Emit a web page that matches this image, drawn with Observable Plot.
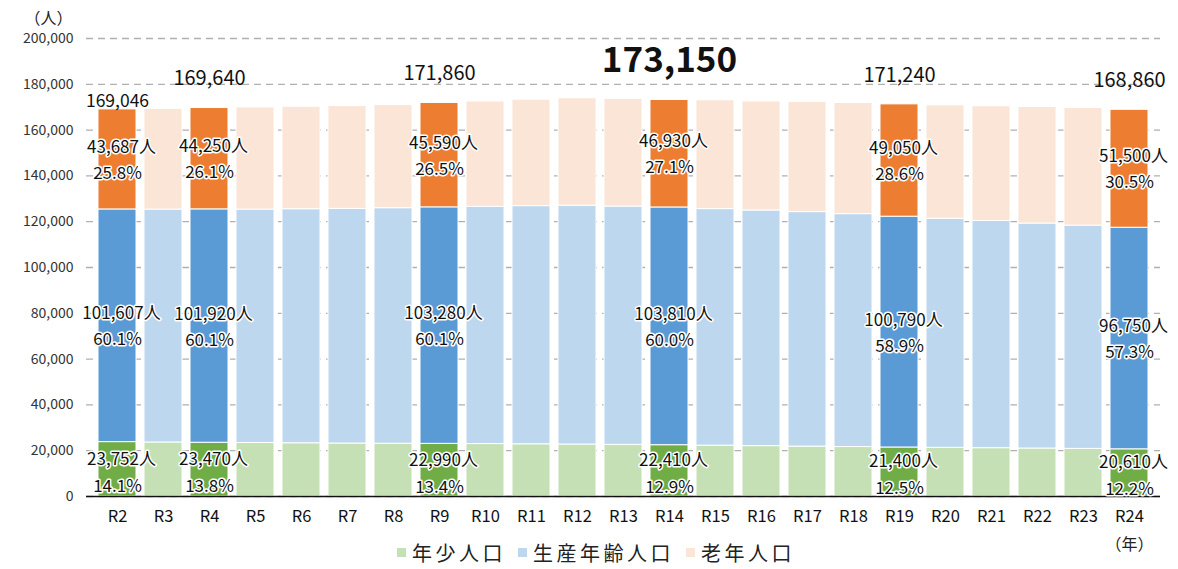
<!DOCTYPE html>
<html>
<head>
<meta charset="utf-8">
<script src="https://cdn.jsdelivr.net/npm/d3@7"></script>
<script src="https://cdn.jsdelivr.net/npm/@observablehq/plot@0.6"></script>
<style>
  body { margin: 0; background: #fff; font-family: "Noto Sans CJK JP", "Noto Sans", sans-serif; }
  #chart svg { display: block; overflow: visible; }
  #legend { display: flex; justify-content: center; align-items: center; height: 34px; font-size: 20px; letter-spacing: 3.5px; color: #222; padding-left: 14px; }
  #legend span.item { display: inline-flex; align-items: center; margin: 0 6px; }
  #legend span.sw { display: inline-block; width: 9px; height: 9px; margin-right: 6px; }
</style>
</head>
<body>
<div id="chart"></div>
<div id="legend"></div>
<script>
const years = ["R2","R3","R4","R5","R6","R7","R8","R9","R10","R11","R12","R13","R14","R15","R16","R17","R18","R19","R20","R21","R22","R23","R24"];
const young   = [23752,23600,23470,23350,23250,23150,23050,22990,22900,22800,22700,22550,22410,22200,22000,21800,21600,21400,21250,21100,20950,20800,20610];
const working = [101607,101700,101920,101950,102200,102450,102850,103280,103600,104000,104300,104050,103810,103300,102900,102400,101700,100790,100050,99200,98250,97500,96750];
const old     = [43687,44000,44250,44600,44750,44900,45100,45590,46000,46500,46900,47000,46930,47500,47600,48100,48550,49050,49500,50100,50900,51400,51500];
const highlighted = ["R2","R4","R9","R14","R19","R24"];
const seriesNames = ["年少人口","生産年齢人口","老年人口"];
const darkColors  = ["#70ad47","#5b9bd5","#ed7d31"];
const lightColors = ["#c5e0b4","#bdd7ee","#fbe5d6"];
const yTicks = [0,20000,40000,60000,80000,100000,120000,140000,160000,180000,200000];

const seriesValues = [young, working, old];
const rows = [];
const labelRows = [];
const totalRows = [];
years.forEach((yr, i) => {
  const total = young[i] + working[i] + old[i];
  const hi = highlighted.includes(yr);
  let base = 0;
  seriesValues.forEach((arr, k) => {
    const v = arr[i];
    rows.push({year: yr, series: seriesNames[k], k, value: v, color: hi ? darkColors[k] : lightColors[k]});
    if (hi) labelRows.push({year: yr, k, value: v, mid: base + v / 2, pct: (v / total * 100).toFixed(1) + "%"});
    base += v;
  });
  if (hi) totalRows.push({year: yr, total});
});
const maxTotal = d3.max(totalRows, d => d.total);
const firstRow = totalRows.slice(0, 1);
const maxRows = totalRows.filter(d => d.total === maxTotal);
const otherRows = totalRows.filter(d => d !== firstRow[0] && d.total !== maxTotal);

const fmt = d3.format(",");
const FONT = "'Noto Sans CJK JP', 'Noto Sans', sans-serif";
const labelStyle = {fill: "#111", stroke: "white", strokeWidth: 3, fontSize: 17, fontFamily: FONT};
const youngRows = labelRows.filter(d => d.k === 0);
const upperRows = labelRows.filter(d => d.k !== 0);

const chart = Plot.plot({
  width: 1178,
  height: 535,
  marginTop: 38,
  marginBottom: 39,
  marginLeft: 86,
  marginRight: 18,
  style: {fontFamily: FONT, background: "white"},
  x: {domain: years, padding: 0.17, label: null, tickSize: 0, tickPadding: 14},
  y: {domain: [0, 200000], ticks: yTicks, label: null, tickSize: 0, tickPadding: 13, tickFormat: fmt},
  marks: [
    Plot.gridY(yTicks, {stroke: "#b0b0b0", strokeOpacity: 1, strokeDasharray: "7,5", strokeWidth: 1.3}),
    Plot.barY(rows, {x: "year", y: "value", fill: "color", stroke: "white", strokeWidth: 1}),
    Plot.ruleY([0], {stroke: "#111", strokeWidth: 1.5}),
    Plot.axisX({tickSize: 0, tickPadding: 14, fontSize: 16.5, fill: "#111"}),
    Plot.axisY(yTicks, {tickSize: 0, tickPadding: 13, fontSize: 14, fill: "#333", tickFormat: fmt}),
    Plot.text(upperRows, {x: "year", y: "mid", text: d => fmt(d.value) + "人", dy: -12, dx: 4, ...labelStyle}),
    Plot.text(upperRows, {x: "year", y: "mid", text: "pct", dy: 14, ...labelStyle}),
    Plot.text(youngRows, {x: "year", y: "mid", text: d => fmt(d.value) + "人", dy: -10, dx: 4, ...labelStyle}),
    Plot.text(youngRows, {x: "year", y: "mid", text: "pct", dy: 17, ...labelStyle}),
    Plot.text(firstRow, {x: "year", y: "total", text: d => fmt(d.total), dy: -8, fontSize: 17.5, fill: "#111", fontFamily: FONT}),
    Plot.text(otherRows, {x: "year", y: "total", text: d => fmt(d.total), dy: -29, fontSize: 20, fill: "#111", fontFamily: FONT}),
    Plot.text(maxRows, {x: "year", y: "total", text: d => fmt(d.total), dy: -39, fontSize: 35, fontWeight: "bold", fill: "#111", fontFamily: FONT}),
    Plot.text(["（人）"], {frameAnchor: "top-left", dx: -62, dy: -26, fontSize: 16, fill: "#222", fontFamily: FONT}),
    Plot.text(["（年）"], {x: [years[years.length - 1]], frameAnchor: "bottom", dy: 53, fontSize: 16, fill: "#222", fontFamily: FONT})
  ]
});
document.getElementById("chart").append(chart);

const legend = document.getElementById("legend");
seriesNames.forEach((name, k) => {
  const item = document.createElement("span");
  item.className = "item";
  const sw = document.createElement("span");
  sw.className = "sw";
  sw.style.background = lightColors[k];
  item.append(sw, document.createTextNode(name));
  legend.append(item);
});
</script>
</body>
</html>
